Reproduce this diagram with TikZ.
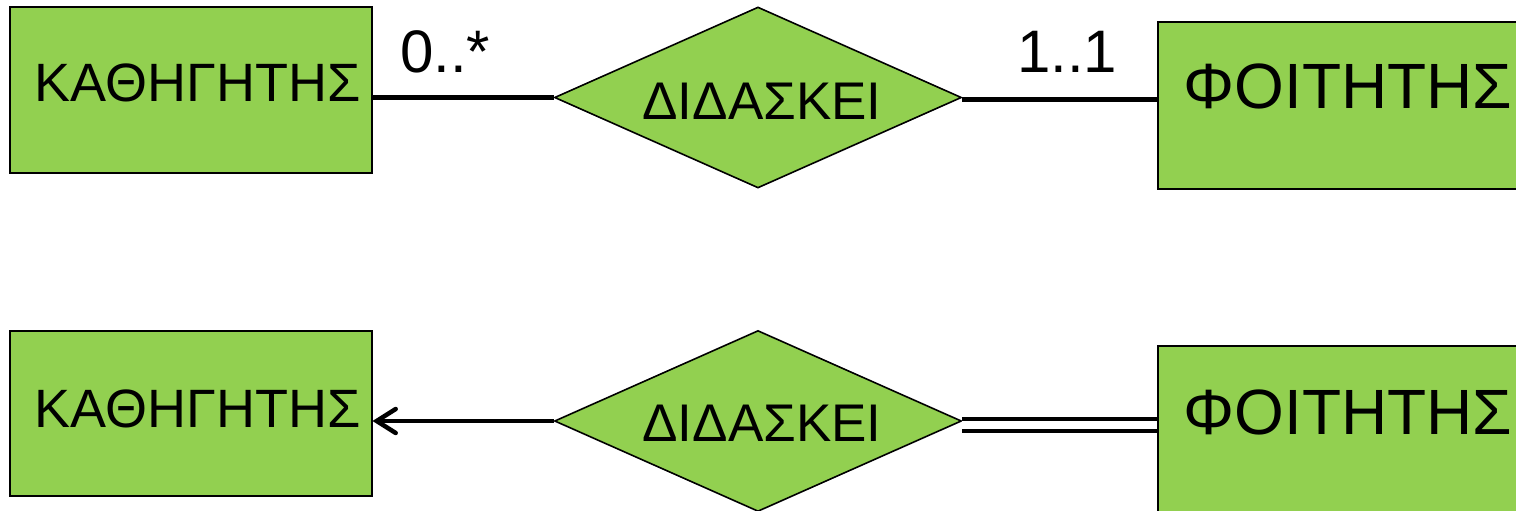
\documentclass[tikz,border=0pt]{standalone}
\usepackage{fontspec}
\setmainfont{Liberation Sans}
\usetikzlibrary{shapes.geometric,arrows.meta}
\definecolor{ergreen}{HTML}{92D050}
\begin{document}
\begin{tikzpicture}[x=1pt,y=-1pt,
  entity/.style={draw=black,line width=2pt,fill=ergreen,rectangle,inner sep=0pt,align=center},
  relation/.style={draw=black,line width=1.6pt,fill=ergreen,diamond,inner sep=0pt,aspect=2.25,
     minimum width=407pt,minimum height=181pt,font=\fontsize{53}{58}\selectfont},
  conn/.style={line width=4.5pt},
  card/.style={inner sep=0pt,anchor=base west,font=\fontsize{60}{66}\selectfont}]
\useasboundingbox (0,0) rectangle (1516,511);
\clip (0,0) rectangle (1516,511);
% top row
\node[entity,minimum width=362pt,minimum height=166pt,font=\fontsize{54}{60}\selectfont,
      text height=40pt,text depth=16pt] (k1) at (190.5,90) {\hspace*{14pt}ΚΑΘΗΓΗΤΗΣ};
\node[relation,text height=44pt,text depth=0pt] (d1) at (758,97.5) {\hspace*{8pt}ΔΙΔΑΣΚΕΙ};
\node[entity,minimum width=380pt,minimum height=167pt,font=\fontsize{64}{70}\selectfont,
      text height=46pt,text depth=41pt] (f1) at (1348,105.5) {ΦΟΙΤΗΤΗΣ};
\draw[conn] (d1.west -| k1.east) -- (d1.west);
\draw[conn] ([yshift=-2pt]d1.east) -- ([yshift=-2pt]d1.east -| f1.west);
\node[card] (c1) at (400,73) {0..*};
\node[card] (c2) at (1017,73) {1..1};
% bottom row
\node[entity,minimum width=362pt,minimum height=165pt,font=\fontsize{54}{60}\selectfont,
      text height=40pt,text depth=13pt] (k2) at (190.5,413.5) {\hspace*{14pt}ΚΑΘΗΓΗΤΗΣ};
\node[relation,text height=40pt,text depth=0pt] (d2) at (758,421) {\hspace*{8pt}ΔΙΔΑΣΚΕΙ};
\node[entity,minimum width=380pt,minimum height=167pt,font=\fontsize{64}{70}\selectfont,
      text height=46pt,text depth=37pt] (f2) at (1348,429.5) {ΦΟΙΤΗΤΗΣ};
\draw[conn,-{Straight Barb[length=19pt,width=24pt,line cap=round]}] (d2.west) -- (d2.west -| k2.east);
\draw[line width=4.5pt,double=white,double distance=7.5pt] ([yshift=-4pt]d2.east) -- ([yshift=-4pt]d2.east -| f2.west);
\end{tikzpicture}
\end{document}
